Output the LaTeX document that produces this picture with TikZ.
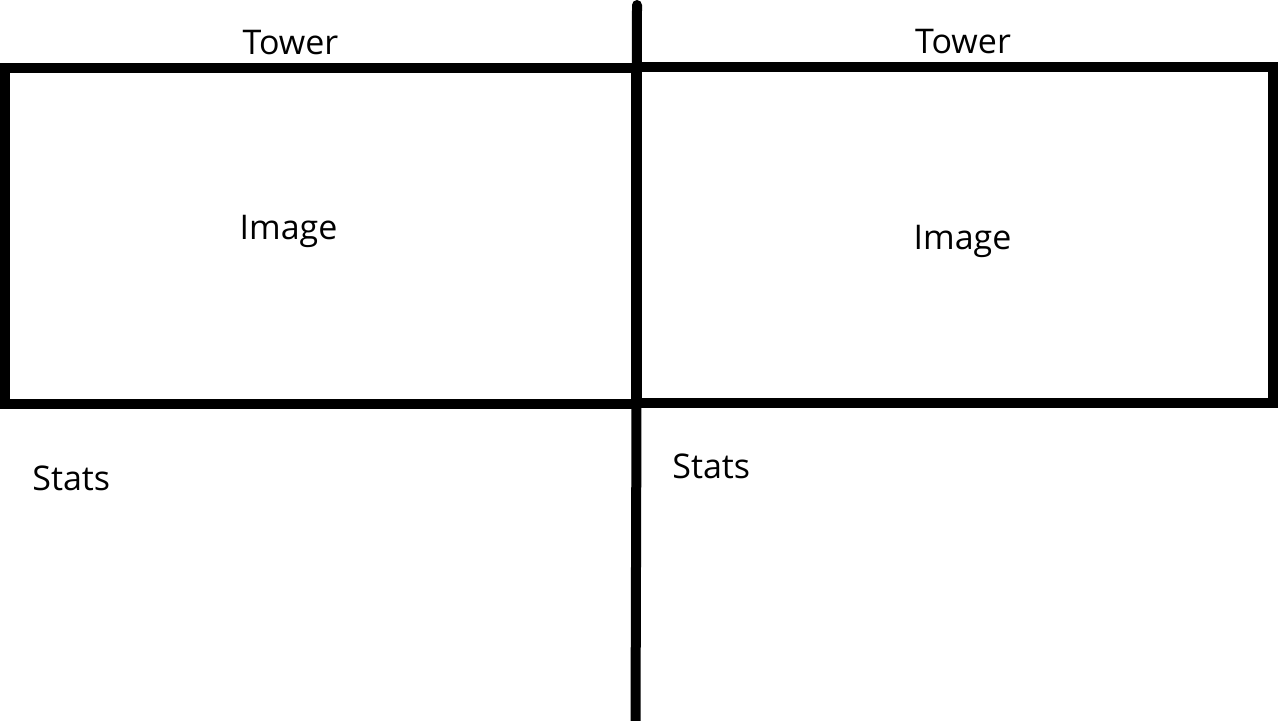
\documentclass[tikz,border=0pt]{standalone}
\usepackage{fontspec}
\setmainfont{Open Sans}
\usepackage{xcolor}
\definecolor{SketchInk}{RGB}{0, 0, 0}
\definecolor{SketchPaper}{RGB}{255, 255, 255}

\begin{document}
\begin{tikzpicture}[
    x=0.5pt, y=-0.5pt,
    font=\fontsize{17pt}{20pt}\selectfont,
    % Styles
    frame/.style={line width=5pt, draw=SketchInk, line join=miter},
    divider/.style={line width=5pt, draw=SketchInk, line cap=round},
    heading/.style={inner sep=0pt, anchor=base, text=SketchInk},
    caption/.style={inner sep=0pt, anchor=base, text=SketchInk},
    statsline/.style={inner sep=0pt, anchor=base west, text=SketchInk}
]

% Page
\useasboundingbox[fill=SketchPaper] (0,0) rectangle (1280,720);

% ==========================================================================================
% LEFT PANEL
% ==========================================================================================

\node[heading] (left_tower) at (290.5,54) {Tower};
\draw[frame] (4.5,67.5) rectangle (636,404);
\node[caption] (left_image) at (288.5,239) {Image};
\node[statsline] (left_stats) at (32,490) {Stats};

% ==========================================================================================
% RIGHT PANEL
% ==========================================================================================

\node[heading] (right_tower) at (963,53) {Tower};
\draw[frame] (637,66.5) rectangle (1273,403);
\node[caption] (right_image) at (962.5,249) {Image};
\node[statsline] (right_stats) at (672,478) {Stats};

% Divider
\draw[divider] (637,5) -- (636.5,405) -- (635.5,725);

\end{tikzpicture}
\end{document}
